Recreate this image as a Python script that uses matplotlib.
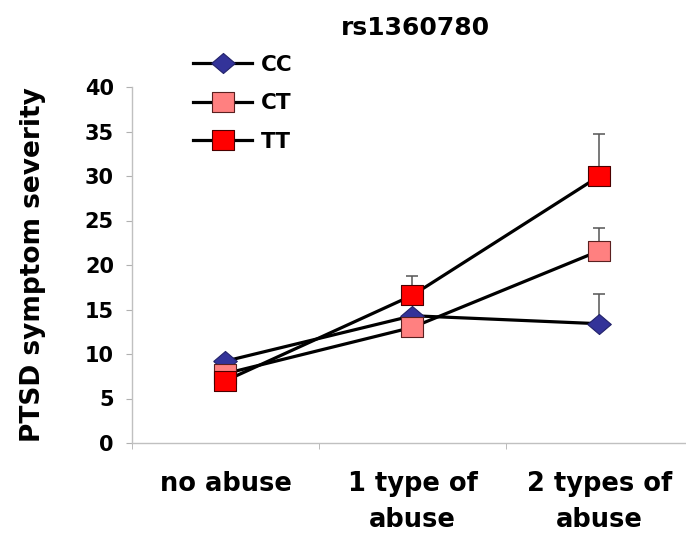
import matplotlib
matplotlib.use("Agg")
import matplotlib.pyplot as plt
from matplotlib.lines import Line2D
import numpy as np

plt.rcParams['font.family'] = ['DejaVu Sans']
plt.rcParams['font.weight'] = 'bold'

categories = ["no abuse", "1 type of\nabuse", "2 types of\nabuse"]
series_names = ["CC", "CT", "TT"]
cc_vals = [9.2, 14.3, 13.4]
ct_vals = [7.8, 13.0, 21.6]
tt_vals = [7.0, 16.6, 30.0]
cc_err = [0.0, 0.0, 3.3]
ct_err = [0.0, 0.0, 2.6]
tt_err = [0.0, 2.2, 4.7]
y_ticks = [0, 5, 10, 15, 20, 25, 30, 35, 40]
title = "rs1360780"
ylabel = "PTSD symptom severity"

W, H = 686, 533
fig = plt.figure(figsize=(W / 100, H / 100), dpi=100)
ax = fig.add_axes([132 / W, 1 - 443 / H, 561 / W, 356 / H])

diamond = [(-1.0, 0.0), (0.0, 0.85), (1.0, 0.0), (0.0, -0.85), (-1.0, 0.0)]
rect = [(-1.0, -0.9), (1.0, -0.9), (1.0, 0.9), (-1.0, 0.9), (-1.0, -0.9)]

styles = {
    "CC": dict(marker=diamond, markersize=17, markerfacecolor="#333399", markeredgecolor="#22226a", markeredgewidth=0.8),
    "CT": dict(marker=rect, markersize=16, markerfacecolor="#ff8080", markeredgecolor="#5a2020", markeredgewidth=0.8),
    "TT": dict(marker=rect, markersize=16, markerfacecolor="#ff0000", markeredgecolor="#4a0000", markeredgewidth=0.8),
}

x = np.arange(len(categories))
data = {"CC": (cc_vals, cc_err), "CT": (ct_vals, ct_err), "TT": (tt_vals, tt_err)}

# lines
for name in series_names:
    vals, _ = data[name]
    ax.plot(x, vals, color="black", lw=2.3, zorder=2, solid_capstyle="butt")

# error bars (upper only)
for name in series_names:
    vals, err = data[name]
    vals = np.array(vals); err = np.array(err)
    m = err > 0
    if m.any():
        ax.errorbar(x[m], vals[m], yerr=[np.zeros(m.sum()), err[m]], fmt="none",
                    ecolor="#555555", elinewidth=1.1, capsize=4, capthick=1.1, zorder=3)

# markers
for i, name in enumerate(series_names):
    vals, _ = data[name]
    ax.plot(x, vals, linestyle="none", zorder=4 + i, **styles[name])

ax.set_xlim(-0.5, 2.5)
ax.set_ylim(0, 40)
ax.set_yticks(y_ticks)
ax.set_yticklabels([str(t) for t in y_ticks], fontsize=15, fontweight="bold")
ax.set_xticks(x)
ax.set_xticklabels(categories, fontsize=18.5, fontweight="bold", linespacing=1.5)
ax.set_xticks([-0.5, 0.5, 1.5], minor=True)
ax.tick_params(axis="x", which="major", length=0, pad=20)
ax.tick_params(axis="x", which="minor", length=4, color="#b0b0b0", direction="out")
ax.tick_params(axis="y", length=4, color="#b0b0b0", direction="out", pad=9)

for s in ["top", "right"]:
    ax.spines[s].set_visible(False)
for s in ["left", "bottom"]:
    ax.spines[s].set_color("#c0c0c0")
    ax.spines[s].set_linewidth(1.0)

ax.set_ylabel(ylabel, fontsize=19, fontweight="bold")
ax.yaxis.set_label_coords((46 - 132) / 561, 0.5)

fig.text(415 / W, 1 - 28 / H, title, fontsize=18, fontweight="bold", ha="center", va="center")

handles = [Line2D([0], [0], color="black", lw=2.3, **styles[n]) for n in series_names]
fig.legend(handles, series_names, loc="upper left", bbox_to_anchor=(193 / W, 1 - 55 / H),
           frameon=False, handlelength=2.75, handletextpad=0.4,
           labelspacing=0.85, borderpad=0, borderaxespad=0,
           prop=dict(weight="bold", size=15.5))

fig.savefig("out.png", dpi=100)
